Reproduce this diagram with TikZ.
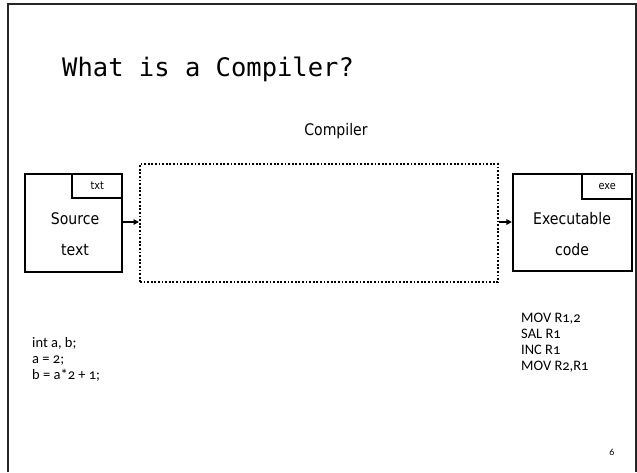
\documentclass[tikz,border=0pt]{standalone}
\usepackage{fontspec}
\setmainfont{Carlito}[Numbers=OldStyle]
\newfontfamily\labelfont{DejaVu Sans}[FakeStretch=0.88]
\newfontfamily\titlefont{DejaVu Sans Mono}
\usetikzlibrary{arrows.meta}
\begin{document}
\begin{tikzpicture}[x=1pt,y=-1pt,
  frame/.style={draw=black!85,line width=1.6pt},
  filebox/.style={draw=black,line width=2.2pt},
  tabbox/.style={draw=black,line width=1.8pt},
  dotbox/.style={draw=black,line width=2pt,dash pattern=on 1.8pt off 1.8pt},
  flow/.style={-{Triangle[length=5.5pt,width=5.5pt]},line width=1.5pt},
  lbl/.style={font=\labelfont\fontsize{16}{19}\selectfont,inner sep=0pt},
  tablbl/.style={font=\labelfont\fontsize{11}{13}\selectfont,inner sep=0pt},
  code/.style={font=\fontsize{14.5}{16}\selectfont,inner sep=0pt,align=left,anchor=north west}]
\useasboundingbox (0,0) rectangle (637,472);
\fill[white] (0,0) rectangle (637,472);

% slide frame (open at the bottom)
\draw[frame] (8,472) -- (8,4) -- (636,4) -- (636,472);

% title
\node[anchor=base west,inner sep=0pt,font=\titlefont\fontsize{25.5}{30}\selectfont] (title) at (62,76) {What is a Compiler?};

% compiler box
\node[dotbox,minimum width=358pt,minimum height=118pt,inner sep=0pt] (comp) at (319,223) {};
\node[lbl,font=\labelfont\fontsize{16}{19}\selectfont] (complbl) at (336,131) {Compiler};

% source file
\node[filebox,minimum width=97pt,minimum height=98pt,inner sep=0pt] (src) at (73.5,223) {};
\node[tabbox,minimum width=50pt,minimum height=24pt,inner sep=0pt,anchor=north east] (srctab) at (src.north east) {};
\node[tablbl] (srctabl) at (srctab.center) {txt};
\node[lbl] (srcl1) at (75,219) {Source};
\node[lbl] (srcl2) at (75,250) {text};

% executable file
\node[filebox,minimum width=119pt,minimum height=97pt,inner sep=0pt] (exe) at (572.5,222.5) {};
\node[tabbox,minimum width=50pt,minimum height=25pt,inner sep=0pt,anchor=north east] (exetab) at (exe.north east) {};
\node[tablbl] (exetabl) at (exetab.center) {exe};
\node[lbl] (exel1) at (572,219) {Executable};
\node[lbl] (exel2) at (572,250) {code};

% data flow
\draw[flow] (src.east |- 0,222) -- (comp.west |- 0,222);
\draw[flow] (comp.east |- 0,222) -- (exe.west |- 0,222);

% code listings
\node[code] (srccode) at (32,337) {int a, b;\\a = 2;\\b = a*2 + 1;};
\node[code] (asmcode) at (521,313) {MOV R1,2\\SAL R1\\INC R1\\MOV R2,R1};

% page number
\node[inner sep=0pt,font=\fontsize{10}{12}\selectfont] (pagenum) at (612,452) {6};
\end{tikzpicture}
\end{document}
